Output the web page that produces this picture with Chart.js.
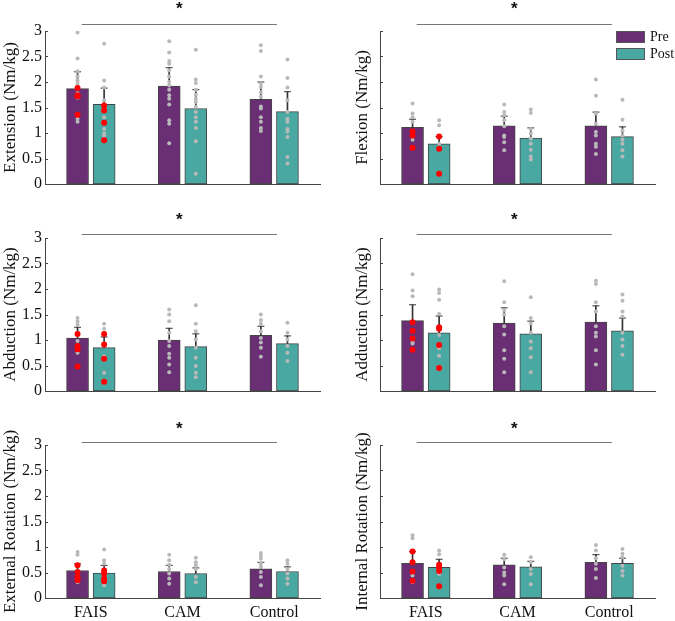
<!DOCTYPE html>
<html>
<head>
<meta charset="utf-8">
<script src="https://cdn.jsdelivr.net/npm/chart.js@4"></script>
<style>
  body { margin: 0; background: #fff; }
  #wrap { position: relative; width: 675px; height: 621px; }
  canvas { position: absolute; }
</style>
</head>
<body>
<div id="wrap">
  <canvas id="c1" width="337" height="207" style="left:0;top:0"></canvas>
  <canvas id="c2" width="338" height="207" style="left:337px;top:0"></canvas>
  <canvas id="c3" width="337" height="207" style="left:0;top:207px"></canvas>
  <canvas id="c4" width="338" height="207" style="left:337px;top:207px"></canvas>
  <canvas id="c5" width="337" height="207" style="left:0;top:414px"></canvas>
  <canvas id="c6" width="338" height="207" style="left:337px;top:414px"></canvas>
</div>
<script>
// groepen en assen
const categories = ['FAIS', 'CAM', 'Control'];
const seriesNames = ['Pre', 'Post'];
const yTicks = [0, 0.5, 1, 1.5, 2, 2.5, 3];

// Extension
const extPre = [1.87, 1.92, 1.66];
const extPost = [1.56, 1.48, 1.42];
const extPreErr = [2.20, 2.28, 2.00];
const extPostErr = [1.88, 1.85, 1.81];
const extPreDots = [[2.97, 2.46, 2.21, 2.11, 2.03, 1.97, 1.78, 1.69, 1.28, 1.22],
  [2.80, 2.58, 2.41, 2.36, 2.23, 2.11, 2.00, 1.93, 1.85, 1.74, 1.67, 1.56, 1.25, 1.18, 0.80],
  [2.72, 2.61, 2.11, 1.97, 1.90, 1.80, 1.71, 1.52, 1.48, 1.31, 1.22, 1.10, 1.04]];
const extPostDots = [[2.75, 2.03, 1.89, 1.64, 1.31, 1.08, 0.99, 0.95],
  [2.63, 2.05, 1.98, 1.85, 1.75, 1.67, 1.61, 1.51, 1.41, 1.31, 1.22, 1.10, 0.84, 0.20],
  [2.44, 2.08, 1.89, 1.64, 1.41, 1.28, 1.22, 1.08, 1.03, 0.92, 0.53, 0.40]];
const extPreRed = [1.88, 1.74, 1.72, 1.36];
const extPostRed = [1.54, 1.44, 1.20, 0.86];

// Flexion
const flxPre = [1.11, 1.14, 1.14];
const flxPost = [0.79, 0.90, 0.93];
const flxPreErr = [1.27, 1.33, 1.41];
const flxPostErr = [0.93, 1.10, 1.12];
const flxPreDots = [[1.58, 1.38, 1.31, 1.22, 0.87],
  [1.56, 1.41, 1.35, 1.25, 1.13, 0.95, 0.92, 0.82, 0.66],
  [2.05, 1.73, 1.38, 1.18, 1.02, 0.95, 0.79, 0.73, 0.59]];
const flxPostDots = [[1.25, 1.15, 0.79],
  [1.46, 1.39, 1.08, 0.99, 0.89, 0.79, 0.67, 0.54, 0.48],
  [1.65, 1.26, 1.05, 0.95, 0.87, 0.79, 0.66, 0.54]];
const flxPreRed = [1.03, 0.95, 0.71];
const flxPostRed = [0.93, 0.69, 0.20];

// Abduction
const abdPre = [1.04, 1.00, 1.09];
const abdPost = [0.85, 0.87, 0.93];
const abdPreErr = [1.25, 1.23, 1.27];
const abdPostErr = [1.06, 1.12, 1.08];
const abdPreDots = [[1.43, 1.37, 1.30, 0.98, 0.75],
  [1.60, 1.50, 1.37, 1.14, 0.98, 0.88, 0.73, 0.65, 0.52, 0.37],
  [1.50, 1.39, 1.32, 1.17, 1.04, 0.95, 0.85, 0.67]];
const abdPostDots = [[1.32, 1.22, 1.14, 0.68, 0.36],
  [1.68, 1.32, 1.17, 1.01, 0.85, 0.65, 0.49, 0.36, 0.27],
  [1.34, 1.14, 1.01, 0.88, 0.75, 0.59]];
const abdPreRed = [1.12, 0.88, 0.82, 0.48];
const abdPostRed = [1.12, 0.91, 0.63, 0.18];

// Adduction
const addPre = [1.38, 1.33, 1.35];
const addPost = [1.14, 1.12, 1.18];
const addPreErr = [1.69, 1.63, 1.67];
const addPostErr = [1.47, 1.37, 1.43];
const addPreDots = [[2.29, 1.97, 1.86, 0.97, 0.93],
  [2.15, 1.74, 1.59, 1.50, 1.27, 1.11, 0.80, 0.63, 0.37],
  [2.16, 2.10, 1.74, 1.56, 1.27, 1.14, 1.07, 0.80, 0.52]];
const addPostDots = [[1.99, 1.92, 1.79, 1.51, 1.10, 0.84, 0.69],
  [1.84, 1.43, 1.33, 1.14, 0.97, 0.84, 0.66, 0.37],
  [1.89, 1.77, 1.56, 1.46, 1.14, 1.01, 0.88, 0.71]];
const addPreRed = [1.35, 1.18, 1.03, 0.81];
const addPostRed = [1.25, 1.22, 0.90, 0.45];

// External Rotation
const erPre = [0.54, 0.52, 0.57];
const erPost = [0.49, 0.48, 0.52];
const erPreErr = [0.67, 0.64, 0.70];
const erPostErr = [0.64, 0.59, 0.61];
const erPreDots = [[0.90, 0.85, 0.31],
  [0.85, 0.74, 0.65, 0.57, 0.48, 0.38, 0.28],
  [0.88, 0.83, 0.77, 0.68, 0.61, 0.51, 0.41, 0.25]];
const erPostDots = [[0.95, 0.74, 0.67, 0.25],
  [0.79, 0.70, 0.64, 0.57, 0.41, 0.31],
  [0.74, 0.67, 0.57, 0.48, 0.38, 0.28]];
const erPreRed = [0.64, 0.51, 0.41, 0.35];
const erPostRed = [0.54, 0.48, 0.38, 0.33];

// Internal Rotation
const irPre = [0.68, 0.65, 0.70];
const irPost = [0.60, 0.61, 0.68];
const irPreErr = [0.91, 0.78, 0.85];
const irPostErr = [0.76, 0.72, 0.78];
const irPreDots = [[1.23, 1.17, 0.44, 0.31],
  [0.85, 0.76, 0.60, 0.50, 0.44, 0.27],
  [1.04, 0.93, 0.78, 0.67, 0.57, 0.39]];
const irPostDots = [[0.93, 0.86, 0.47],
  [0.80, 0.70, 0.57, 0.47, 0.27],
  [0.96, 0.87, 0.80, 0.63, 0.53, 0.44]];
const irPreRed = [0.91, 0.70, 0.52, 0.34];
const irPostRed = [0.65, 0.60, 0.53, 0.23];

// significantie-lijn (in x-eenheden)
const sigFrom = 0.9, sigTo = 3.03;

const purple = 'rgb(106,46,116)';
const teal = 'rgb(74,168,162)';
const dotGray = 'rgb(185,185,185)';
const axisColor = '#444';
const FONT = 'Liberation Serif';
const barShift = 0.145;

// kleine maatstreepjes naar binnen + sterretje + legenda
const extras = {
  id: 'extras',
  afterDraw(chart, args, opts) {
    const ctx = chart.ctx;
    const ys = chart.scales.y, xs = chart.scales.x;
    const area = chart.chartArea;
    ctx.save();
    ctx.strokeStyle = axisColor;
    ctx.lineWidth = 1;
    ys.ticks.forEach(t => {
      const py = Math.round(ys.getPixelForValue(t.value)) + 0.5;
      ctx.beginPath();
      ctx.moveTo(area.left, py);
      ctx.lineTo(area.left + 3, py);
      ctx.stroke();
    });
    // significantie
    const x1 = xs.getPixelForValue(sigFrom), x2 = xs.getPixelForValue(sigTo);
    const ly = Math.round(area.top - opts.lineOff) + 0.5;
    ctx.strokeStyle = '#777';
    ctx.beginPath();
    ctx.moveTo(x1, ly);
    ctx.lineTo(x2, ly);
    ctx.stroke();
    ctx.fillStyle = '#111';
    ctx.font = 'bold 17px "Liberation Sans"';
    ctx.textAlign = 'center';
    ctx.textBaseline = 'alphabetic';
    ctx.fillText('*', (x1 + x2) / 2, area.top - opts.starOff);
    // legenda
    if (opts.legend) {
      const colors = [purple, teal];
      ctx.font = '14px "' + FONT + '"';
      ctx.textAlign = 'left';
      ctx.textBaseline = 'middle';
      seriesNames.forEach((name, i) => {
        const bx = area.right - 39, by = area.top + i * 17;
        ctx.fillStyle = colors[i];
        ctx.fillRect(bx, by, 29, 12);
        ctx.strokeStyle = '#555';
        ctx.strokeRect(bx + 0.5, by + 0.5, 28, 11);
        ctx.fillStyle = '#111';
        ctx.fillText(name, area.right - 5, by + 6.5);
      });
    }
    ctx.restore();
  }
};

function makePanel(id, title, right, showX, lineOff, starOff, legend, pre, post, preErr, postErr, preDots, postDots, preRed, postRed) {
  const xPre = categories.map((c, i) => i + 1 - barShift);
  const xPost = categories.map((c, i) => i + 1 + barShift);
  const dotsOf = (xs, groups) => groups.flatMap((g, i) => g.map(v => ({ x: xs[i], y: v })));
  const redOf = (x, vals) => vals.map(v => ({ x: x, y: v }));
  const barDs = (label, xs, vals, color) => ({
    type: 'bar', label: label, order: 4, grouped: false, barThickness: 22,
    data: vals.map((v, i) => ({ x: xs[i], y: v })),
    backgroundColor: color, borderColor: '#444', borderWidth: 1, borderSkipped: false
  });
  const stemDs = (xs, mean, top) => ({
    type: 'bar', order: 3, grouped: false, barThickness: 1,
    data: mean.map((v, i) => ({ x: xs[i], y: [v, top[i]] })),
    backgroundColor: '#333', borderWidth: 0
  });
  const capDs = (xs, top) => ({
    type: 'scatter', order: 3,
    data: top.map((v, i) => ({ x: xs[i], y: v })),
    pointStyle: 'line', radius: 3.5, borderColor: '#333', borderWidth: 1
  });
  const dotDs = (pts, color, r, order) => ({
    type: 'scatter', order: order, data: pts,
    pointStyle: 'circle', radius: r, backgroundColor: color, borderWidth: 0
  });

  new Chart(document.getElementById(id), {
    type: 'bar',
    data: {
      datasets: [
        barDs('Pre', xPre, pre, purple),
        barDs('Post', xPost, post, teal),
        stemDs(xPre, pre, preErr), stemDs(xPost, post, postErr),
        capDs(xPre, preErr), capDs(xPost, postErr),
        dotDs(dotsOf(xPre, preDots), dotGray, 2, 2),
        dotDs(dotsOf(xPost, postDots), dotGray, 2, 2),
        dotDs(redOf(xPre[0], preRed), 'rgb(255,0,0)', 3, 1),
        dotDs(redOf(xPost[0], postRed), 'rgb(255,0,0)', 3, 1)
      ]
    },
    options: {
      responsive: false,
      animation: false,
      events: [],
      layout: { padding: { top: 31, left: right ? 15 : 0, right: right ? 20 : 17, bottom: 0 } },
      plugins: {
        legend: { display: false },
        tooltip: { enabled: false },
        extras: { lineOff: lineOff, starOff: starOff, legend: legend }
      },
      scales: {
        x: {
          type: 'linear', min: 0.5, max: 3.5, offset: false,
          grid: { display: false, drawTicks: false },
          border: { display: true, color: axisColor },
          afterBuildTicks: s => { s.ticks = categories.map((c, i) => ({ value: i + 1 })); },
          afterFit: s => { s.height = 23; },
          ticks: {
            display: showX, padding: 5, maxRotation: 0,
            color: '#111', font: { family: FONT, size: 16 },
            callback: v => categories[Math.round(v) - 1]
          }
        },
        y: {
          min: 0, max: 3,
          grid: { display: false, drawTicks: false },
          border: { display: true, color: axisColor },
          afterBuildTicks: s => { s.ticks = yTicks.map(v => ({ value: v })); },
          afterFit: s => { s.width = right ? 28 : 45; },
          ticks: {
            padding: 3, color: '#111', font: { family: FONT, size: 16 },
            callback: v => right ? '' : String(v)
          },
          title: {
            display: true, text: title, color: '#111',
            padding: { top: 0, bottom: 0 },
            font: { family: FONT, size: 17 }
          }
        }
      }
    },
    plugins: [extras]
  });
}

makePanel('c1', 'Extension (Nm/kg)', false, false, 7, 17, false,
  extPre, extPost, extPreErr, extPostErr, extPreDots, extPostDots, extPreRed, extPostRed);
makePanel('c2', 'Flexion (Nm/kg)', true, false, 7, 17, true,
  flxPre, flxPost, flxPreErr, flxPostErr, flxPreDots, flxPostDots, flxPreRed, flxPostRed);
makePanel('c3', 'Abduction (Nm/kg)', false, false, 4, 13, false,
  abdPre, abdPost, abdPreErr, abdPostErr, abdPreDots, abdPostDots, abdPreRed, abdPostRed);
makePanel('c4', 'Adduction (Nm/kg)', true, false, 4, 13, false,
  addPre, addPost, addPreErr, addPostErr, addPreDots, addPostDots, addPreRed, addPostRed);
makePanel('c5', 'External Rotation (Nm/kg)', false, true, 3, 11, false,
  erPre, erPost, erPreErr, erPostErr, erPreDots, erPostDots, erPreRed, erPostRed);
makePanel('c6', 'Internal Rotation (Nm/kg)', true, true, 3, 11, false,
  irPre, irPost, irPreErr, irPostErr, irPreDots, irPostDots, irPreRed, irPostRed);
</script>
</body>
</html>
